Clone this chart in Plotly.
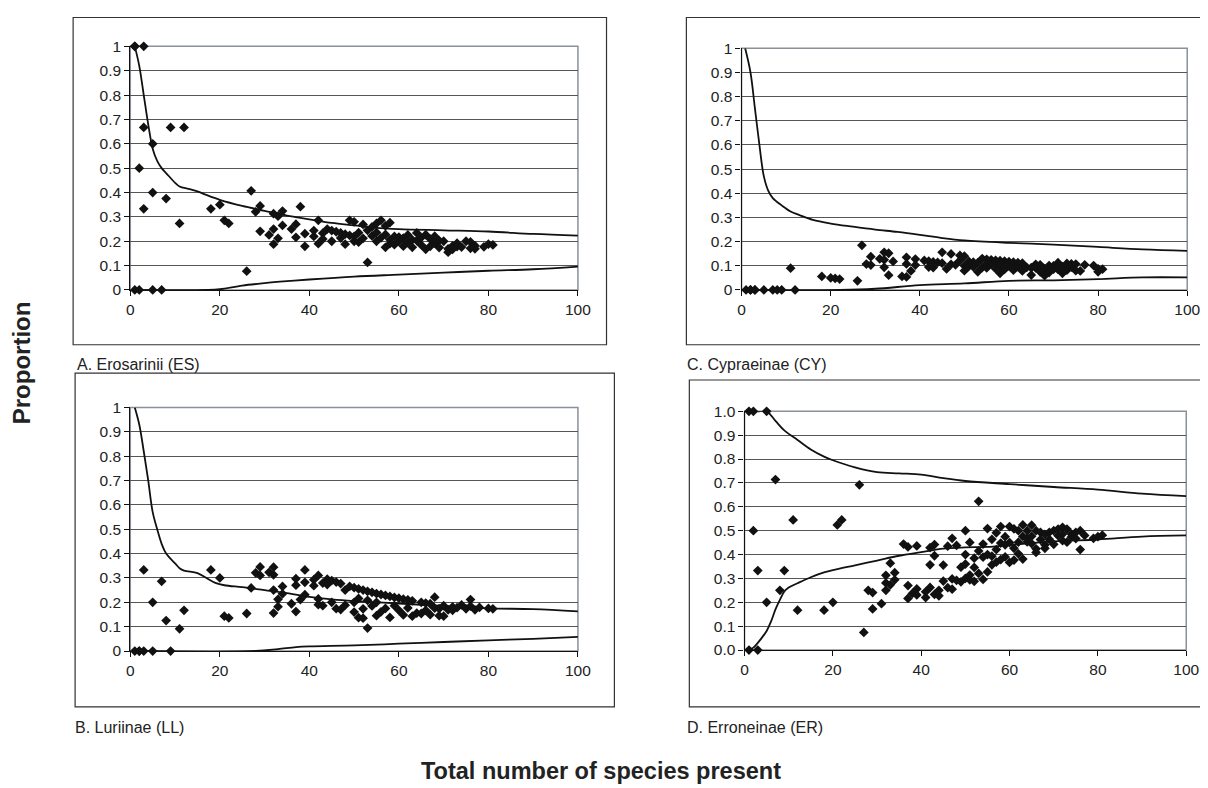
import plotly.graph_objects as go

# ---------------- Panel A: Erosarinii (ES) ----------------
A_pts_x = [1, 1, 3, 3, 2, 5, 3, 5, 9, 12, 8, 11, 1, 2, 5, 7,
           18, 20, 21, 22, 26, 27, 28, 29, 29, 31, 32, 32, 32, 33, 33, 34, 34, 36, 37, 37, 38, 39, 39,
           41, 41, 42, 42, 43, 43, 44, 45, 45, 46, 47, 47, 48, 48, 49, 49, 50, 50, 50, 51, 51, 52, 52,
           53, 53, 54, 54, 55, 55, 55, 56, 56, 57, 57, 57, 58, 58, 58, 59, 59, 60, 60, 61, 61, 62, 62,
           63, 63, 64, 64, 65, 65, 66, 66, 67, 67, 68, 68, 69, 69, 70, 71, 71, 72, 72, 73, 73, 74, 75,
           76, 76, 77, 77, 79, 80, 81]
A_pts_y = [1.0, 1.0, 1.0, 0.667, 0.5, 0.6, 0.333, 0.4, 0.667, 0.667, 0.375, 0.273, 0, 0, 0, 0,
           0.333, 0.35, 0.286, 0.273, 0.077, 0.407, 0.321, 0.345, 0.241, 0.226, 0.25, 0.188, 0.313, 0.212, 0.303,
           0.324, 0.265, 0.25, 0.27, 0.216, 0.342, 0.231, 0.179,
           0.244, 0.22, 0.286, 0.19, 0.233, 0.209, 0.25, 0.2, 0.244, 0.239, 0.213, 0.234, 0.188, 0.229, 0.286,
           0.224, 0.28, 0.2, 0.22, 0.235, 0.196, 0.269, 0.212,
           0.113, 0.245, 0.259, 0.222, 0.273, 0.2, 0.236, 0.286, 0.214, 0.263, 0.175, 0.228, 0.276, 0.19, 0.207,
           0.22, 0.186, 0.2, 0.217, 0.18, 0.213, 0.194, 0.226,
           0.175, 0.206, 0.203, 0.234, 0.185, 0.215, 0.227, 0.167, 0.179, 0.209, 0.221, 0.191, 0.203, 0.174,
           0.2, 0.155, 0.169, 0.181, 0.167, 0.178, 0.192, 0.176, 0.2,
           0.197, 0.171, 0.182, 0.169, 0.177, 0.188, 0.185]
A_up_x = [1, 2, 3, 4, 5, 6, 7, 8, 10, 11, 13, 15, 17, 20, 25, 30, 35, 40, 45, 50, 55, 60, 70, 80, 90, 100]
A_up_y = [1.0, 0.92, 0.8, 0.68, 0.58, 0.53, 0.5, 0.48, 0.44, 0.425, 0.415, 0.405, 0.39, 0.37, 0.345,
          0.325, 0.305, 0.29, 0.275, 0.265, 0.255, 0.25, 0.245, 0.24, 0.23, 0.223]
A_lo_x = [1, 17, 20, 25, 30, 35, 40, 50, 60, 70, 80, 90, 100]
A_lo_y = [0, 0, 0.003, 0.018, 0.028, 0.036, 0.043, 0.055, 0.063, 0.071, 0.079, 0.085, 0.096]

# ---------------- Panel B: Luriinae (LL) ----------------
B_pts_x = [1, 2, 2, 3, 5, 9, 3, 5, 7, 8, 11, 12, 18, 20, 21, 22, 26, 27, 28, 29, 29, 31, 32, 32, 32, 32,
           33, 33, 34, 34, 36, 37, 37, 37, 38, 39, 39, 39, 41, 41, 42, 42, 42, 43, 43, 44, 44, 45, 45,
           46, 46, 47, 47, 48, 48, 49, 50, 50, 50, 51, 51, 51, 52, 52, 52, 53, 53, 53, 54, 54, 55, 55,
           55, 56, 56, 57, 57, 58, 58, 59, 59, 60, 60, 61, 61, 62, 62, 63, 63, 64, 65, 65, 66, 66, 67,
           67, 68, 68, 69, 69, 70, 70, 71, 72, 72, 73, 74, 75, 76, 76, 77, 78, 80, 81]
B_pts_y = [0, 0, 0, 0, 0, 0, 0.333, 0.2, 0.286, 0.125, 0.091, 0.167, 0.333, 0.3, 0.143, 0.136, 0.154,
           0.259, 0.321, 0.345, 0.31, 0.323, 0.344, 0.313, 0.25, 0.156,
           0.212, 0.182, 0.265, 0.235, 0.194, 0.297, 0.27, 0.162, 0.211, 0.333, 0.282, 0.231, 0.293, 0.268,
           0.31, 0.19, 0.214, 0.279, 0.186, 0.295, 0.273, 0.289, 0.2,
           0.283, 0.174, 0.277, 0.17, 0.25, 0.188, 0.265, 0.26, 0.16, 0.2, 0.255, 0.216, 0.137, 0.25, 0.173,
           0.135, 0.245, 0.094, 0.208, 0.241, 0.185, 0.236, 0.145,
           0.2, 0.232, 0.161, 0.228, 0.175, 0.224, 0.138, 0.22, 0.186, 0.217, 0.167, 0.213, 0.148, 0.21,
           0.177, 0.206, 0.143, 0.156, 0.2, 0.154, 0.197, 0.167, 0.194,
           0.149, 0.221, 0.176, 0.145, 0.174, 0.186, 0.143, 0.169, 0.181, 0.167, 0.178, 0.189, 0.173, 0.211,
           0.184, 0.169, 0.179, 0.175, 0.173]
B_up_x = [1, 2, 3, 4, 5, 6, 7, 8, 10, 11, 12, 15, 17, 19, 21, 25, 30, 35, 40, 45, 50, 60, 70, 80, 90, 100]
B_up_y = [1.0, 0.93, 0.82, 0.7, 0.57, 0.5, 0.44, 0.4, 0.36, 0.34, 0.33, 0.32, 0.3, 0.28, 0.27, 0.262,
          0.25, 0.238, 0.222, 0.212, 0.205, 0.195, 0.185, 0.175, 0.172, 0.163]
B_lo_x = [1, 28, 33, 37, 40, 50, 60, 70, 80, 90, 100]
B_lo_y = [0, 0, 0.008, 0.016, 0.019, 0.023, 0.03, 0.037, 0.044, 0.05, 0.058]

# ---------------- Panel C: Cypraeinae (CY) ----------------
C_pts_x = [1, 2, 2, 3, 3, 5, 7, 8, 9, 12, 11, 18, 20, 21, 22, 26, 27, 28, 29, 29, 31, 32, 32, 32, 33, 33,
           34, 36, 37, 37, 37, 38, 39, 39, 41, 42, 42, 43, 43, 44, 45, 45, 46, 47, 47, 48, 49, 49, 50,
           50, 50, 51, 51, 52, 52, 53, 53, 54, 54, 55, 55, 55, 56, 56, 57, 57, 58, 58, 58, 59, 59, 60,
           60, 61, 61, 62, 62, 63, 63, 64, 65, 65, 66, 66, 67, 67, 68, 68, 69, 69, 70, 70, 71, 71, 72,
           72, 73, 73, 74, 74, 75, 75, 76, 77, 79, 80, 80, 81]
C_pts_y = [0, 0, 0, 0, 0, 0, 0, 0, 0, 0, 0.09, 0.056, 0.05, 0.048, 0.045, 0.038, 0.185, 0.107, 0.138, 0.103,
           0.129, 0.156, 0.125, 0.094, 0.152, 0.061,
           0.118, 0.056, 0.135, 0.108, 0.054, 0.079, 0.128, 0.103, 0.122, 0.119, 0.095, 0.116, 0.093, 0.114,
           0.156, 0.111, 0.087, 0.149, 0.106, 0.104, 0.143, 0.122, 0.14,
           0.1, 0.08, 0.118, 0.098, 0.115, 0.096, 0.113, 0.075, 0.13, 0.093, 0.127, 0.109, 0.091, 0.125,
           0.107, 0.123, 0.088, 0.121, 0.069, 0.103, 0.119, 0.085, 0.117,
           0.1, 0.115, 0.082, 0.113, 0.097, 0.111, 0.079, 0.094, 0.062, 0.092, 0.106, 0.091, 0.104, 0.075,
           0.088, 0.059, 0.101, 0.072, 0.1, 0.086, 0.113, 0.085, 0.097,
           0.069, 0.11, 0.082, 0.108, 0.095, 0.107, 0.08, 0.079, 0.104, 0.101, 0.075, 0.087, 0.086]
C_up_x = [0.8, 2, 3, 4, 5, 6, 7, 9, 11, 13, 16, 20, 25, 30, 35, 40, 45, 50, 60, 70, 80, 90, 100]
C_up_y = [1.0, 0.9, 0.75, 0.6, 0.47, 0.41, 0.38, 0.35, 0.325, 0.31, 0.29, 0.275, 0.262, 0.25, 0.24,
          0.228, 0.215, 0.205, 0.195, 0.188, 0.178, 0.168, 0.162]
C_lo_x = [1, 22, 30, 40, 50, 60, 70, 80, 90, 100]
C_lo_y = [0, 0, 0.005, 0.02, 0.027, 0.038, 0.04, 0.045, 0.052, 0.052]

# ---------------- Panel D: Erroneinae (ER) ----------------
D_pts_x = [1, 2, 5, 1, 3, 2, 3, 5, 7, 8, 9, 11, 12, 18, 20, 21, 22, 26, 27, 28, 29, 29, 31, 32, 32, 32,
           33, 33, 34, 34, 36, 37, 37, 37, 38, 39, 39, 39, 41, 41, 42, 42, 42, 43, 43, 43, 44, 44, 45,
           45, 46, 46, 47, 47, 47, 48, 48, 49, 49, 50, 50, 50, 50, 51, 51, 51, 52, 52, 52, 53, 53, 53,
           54, 54, 54, 55, 55, 55, 56, 56, 56, 57, 57, 57, 58, 58, 58, 59, 59, 59, 60, 60, 60, 61, 61,
           61, 62, 62, 62, 63, 63, 63, 64, 64, 64, 65, 65, 65, 66, 66, 66, 67, 67, 68, 68, 68, 69, 69,
           70, 70, 71, 71, 72, 72, 72, 73, 73, 74, 74, 75, 75, 76, 76, 77, 79, 80, 81]
D_pts_y = [1.0, 1.0, 1.0, 0, 0, 0.5, 0.333, 0.2, 0.714, 0.25, 0.333, 0.545, 0.167, 0.167, 0.2, 0.524, 0.545,
           0.692, 0.074, 0.25, 0.241, 0.172, 0.194, 0.313, 0.281, 0.25,
           0.364, 0.273, 0.324, 0.294, 0.444, 0.432, 0.27, 0.216, 0.237, 0.436, 0.256, 0.231, 0.244, 0.22,
           0.429, 0.357, 0.262, 0.442, 0.395, 0.233, 0.25, 0.227, 0.356,
           0.289, 0.435, 0.261, 0.468, 0.298, 0.255, 0.438, 0.292, 0.286, 0.347, 0.5, 0.4, 0.3, 0.36, 0.451,
           0.314, 0.294, 0.385, 0.288, 0.346, 0.623, 0.415, 0.321,
           0.444, 0.296, 0.389, 0.509, 0.4, 0.327, 0.464, 0.357, 0.393, 0.491, 0.368, 0.421, 0.517, 0.379,
           0.448, 0.475, 0.39, 0.441, 0.517, 0.45, 0.367, 0.508, 0.426,
           0.377, 0.5, 0.452, 0.403, 0.524, 0.476, 0.381, 0.5, 0.469, 0.453, 0.523, 0.477, 0.446, 0.5, 0.424,
           0.409, 0.493, 0.463, 0.485, 0.441, 0.426, 0.493, 0.464,
           0.5, 0.443, 0.479, 0.507, 0.514, 0.486, 0.458, 0.507, 0.452, 0.486, 0.473, 0.493, 0.467, 0.5,
           0.421, 0.48, 0.468, 0.475, 0.481]
D_up_x = [1, 3, 5, 7, 9, 12, 15, 18, 20, 25, 30, 35, 40, 45, 50, 60, 70, 80, 90, 100]
D_up_y = [1.0, 1.0, 1.0, 0.96, 0.92, 0.88, 0.84, 0.81, 0.795, 0.765, 0.745, 0.74, 0.735, 0.72, 0.708,
          0.695, 0.683, 0.672, 0.655, 0.645]
D_lo_x = [1, 2, 3, 5, 6, 7, 8, 9, 10, 12, 15, 18, 20, 25, 30, 35, 40, 45, 50, 55, 60, 70, 80, 90, 100]
D_lo_y = [0, 0.01, 0.03, 0.08, 0.12, 0.17, 0.21, 0.245, 0.262, 0.28, 0.305, 0.325, 0.335, 0.355, 0.375,
          0.395, 0.41, 0.425, 0.43, 0.432, 0.44, 0.455, 0.463, 0.475, 0.48]

x_ticks = [0, 20, 40, 60, 80, 100]
y_ticks = [0, 0.1, 0.2, 0.3, 0.4, 0.5, 0.6, 0.7, 0.8, 0.9, 1.0]

panel_titles = ["A. Erosarinii (ES)", "B. Luriinae (LL)", "C. Cypraeinae (CY)", "D. Erroneinae (ER)"]
x_title = "Total number of species present"
y_title = "Proportion"

FONT = "Liberation Sans, Arial, sans-serif"
FW, FH = 1208, 788


def px(x):
    return x / FW


def py(y):
    return 1 - y / FH


# plot-area geometry (pixels): left, right, top(y=1), bottom(y=0)
panels = [
    dict(pts=(A_pts_x, A_pts_y), up=(A_up_x, A_up_y), lo=(A_lo_x, A_lo_y),
         area=(120, 574, 30, 279), box=(62, 603, 0.5, 335), fmt="", title=panel_titles[0], tpos=(64, 355)),
    dict(pts=(B_pts_x, B_pts_y), up=(B_up_x, B_up_y), lo=(B_lo_x, B_lo_y),
         area=(120, 574, 399, 648), box=(64, 611, 364, 705), fmt="", title=panel_titles[1], tpos=(62, 726)),
    dict(pts=(C_pts_x, C_pts_y), up=(C_up_x, C_up_y), lo=(C_lo_x, C_lo_y),
         area=(740, 1192, 32, 279), box=(684, 1240, 0.5, 335), fmt="", title=panel_titles[2], tpos=(683, 355)),
    dict(pts=(D_pts_x, D_pts_y), up=(D_up_x, D_up_y), lo=(D_lo_x, D_lo_y),
         area=(743, 1191, 403, 647), box=(687, 1240, 371, 705), fmt=".1f", title=panel_titles[3], tpos=(683, 726)),
]

fig = go.Figure()
layout = dict(width=FW, height=FH, margin=dict(l=0, r=0, t=0, b=0), paper_bgcolor="white",
              plot_bgcolor="white", showlegend=False, font=dict(family=FONT, size=15, color="#222"))
shapes = []
annotations = []
TICKFONT = dict(size=15.5, color="#222", family=FONT)

for i, p in enumerate(panels):
    n = "" if i == 0 else str(i + 1)
    xa, ya = "x" + n, "y" + n
    l, r, t, b = p["area"]
    layout["xaxis" + n] = dict(domain=[px(l), px(r)], range=[0, 100], tickvals=x_ticks, anchor=ya,
                               showline=True, linecolor="#111", linewidth=1.2, ticks="outside",
                               ticklen=5, tickcolor="#111", showgrid=False, zeroline=False,
                               tickfont=TICKFONT, fixedrange=True)
    layout["yaxis" + n] = dict(domain=[py(b), py(t)], range=[0, 1], tickvals=y_ticks, anchor=xa,
                               tickformat=p["fmt"] if p["fmt"] else None,
                               showline=True, linecolor="#111", linewidth=1.2, ticks="outside",
                               ticklen=5, tickcolor="#111", showgrid=True, gridcolor="#555",
                               gridwidth=1, zeroline=False, tickfont=TICKFONT, fixedrange=True)
    # grey plot-area frame
    shapes.append(dict(type="rect", xref=xa + " domain", yref=ya + " domain", x0=0, x1=1, y0=0, y1=1,
                       line=dict(color="#8a9199", width=1.5), layer="below"))
    # outer chart box
    bl, br, bt, bb = p["box"]
    shapes.append(dict(type="rect", xref="paper", yref="paper", x0=px(bl), x1=px(br), y0=py(bb), y1=py(bt),
                       line=dict(color="#333", width=1.2), layer="below"))
    annotations.append(dict(text=p["title"], xref="paper", yref="paper", x=px(p["tpos"][0]),
                            y=py(p["tpos"][1]), xanchor="left", yanchor="middle", showarrow=False,
                            font=dict(size=16, color="#222", family=FONT)))
    for cx, cy in (p["up"], p["lo"]):
        fig.add_trace(go.Scatter(x=cx, y=cy, mode="lines", line=dict(color="#111", width=1.8, shape="spline"),
                                 xaxis=xa, yaxis=ya, hoverinfo="skip", cliponaxis=False))
    fig.add_trace(go.Scatter(x=p["pts"][0], y=p["pts"][1], mode="markers",
                             marker=dict(symbol="diamond", size=7.5, color="#111"),
                             xaxis=xa, yaxis=ya, cliponaxis=False))

annotations.append(dict(text="<b>" + x_title + "</b>", xref="paper", yref="paper", x=px(597), y=py(771),
                        xanchor="center", yanchor="middle", showarrow=False,
                        font=dict(size=23.5, color="#222", family=FONT)))
annotations.append(dict(text="<b>" + y_title + "</b>", xref="paper", yref="paper", x=px(10), y=py(353),
                        xanchor="center", yanchor="middle", showarrow=False, textangle=-90,
                        font=dict(size=24, color="#222", family=FONT)))
layout["shapes"] = shapes
layout["annotations"] = annotations
fig.update_layout(**layout)
fig.write_html("out.html")
